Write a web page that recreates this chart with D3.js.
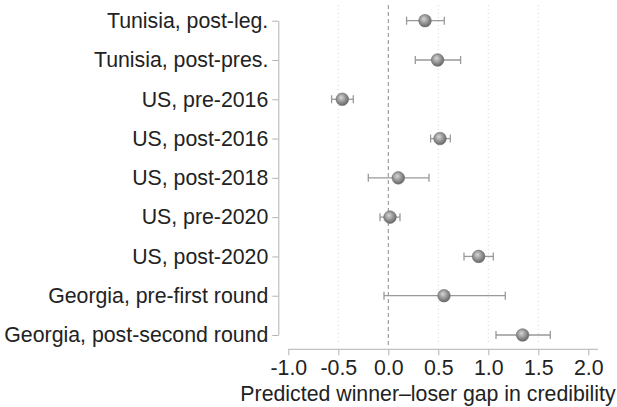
<!DOCTYPE html>
<html>
<head>
<meta charset="utf-8">
<script src="https://cdn.jsdelivr.net/npm/d3@7"></script>
<style>
  html, body { margin: 0; padding: 0; background: #fff; }
  svg { display: block; font-family: "Liberation Sans", Arial, Helvetica, sans-serif; }
</style>
</head>
<body>
<svg id="chart" width="617" height="407"></svg>
<script>
// Estimates of the winner–loser credibility gap with 95% intervals
const categories = [
  "Tunisia, post-leg.",
  "Tunisia, post-pres.",
  "US, pre-2016",
  "US, post-2016",
  "US, post-2018",
  "US, pre-2020",
  "US, post-2020",
  "Georgia, pre-first round",
  "Georgia, post-second round"
];
const estimates = [0.367, 0.493, -0.46, 0.517, 0.10, 0.017, 0.903, 0.557, 1.343];
const lower     = [0.183, 0.27, -0.567, 0.423, -0.20, -0.083, 0.757, -0.043, 1.077];
const upper     = [0.56, 0.723, -0.35, 0.62, 0.407, 0.117, 1.05, 1.17, 1.62];
const xTicks = [-1.0, -0.5, 0.0, 0.5, 1.0, 1.5, 2.0];
const gridTicks = [-0.5, 0.5, 1.0, 1.5];
const xTitle = "Predicted winner\u2013loser gap in credibility";

const svg = d3.select("#chart");

const x = d3.scaleLinear().domain([-1, 2]).range([288.3, 588.3]);
const y = d3.scalePoint().domain(categories).range([20.7, 335]);

const axisColor = "#b3b3b3";
const textColor = "#222";
const fontSize = 21.3;

// Sphere-like shading for markers
const defs = svg.append("defs");
const grad = defs.append("radialGradient")
  .attr("id", "ball").attr("cx", "45%").attr("cy", "42%").attr("r", "60%")
  .attr("fx", "40%").attr("fy", "35%");
grad.append("stop").attr("offset", "0%").attr("stop-color", "#d6d6d6");
grad.append("stop").attr("offset", "55%").attr("stop-color", "#969696");
grad.append("stop").attr("offset", "100%").attr("stop-color", "#626262");

// Vertical reference gridlines
svg.append("g").selectAll("line").data(gridTicks).join("line")
  .attr("x1", d => x(d)).attr("x2", d => x(d))
  .attr("y1", 5).attr("y2", 345)
  .attr("stroke", "#d4d4d4").attr("stroke-width", 1)
  .attr("stroke-dasharray", "1,3");

// Zero line
svg.append("line")
  .attr("x1", x(0)).attr("x2", x(0)).attr("y1", 5).attr("y2", 345)
  .attr("stroke", "#8c8c8c").attr("stroke-width", 1)
  .attr("stroke-dasharray", "4,3");

// X axis
const xAxis = d3.axisBottom(x).tickValues(xTicks).tickFormat(d3.format(".1f"))
  .tickSize(6).tickPadding(3).tickSizeOuter(0);
const gx = svg.append("g").attr("transform", "translate(0,349.3)").call(xAxis);
gx.select(".domain").attr("d", `M${x(-1)},0H598`).attr("stroke", axisColor);
gx.selectAll(".tick line").attr("stroke", axisColor);
gx.selectAll(".tick text")
  .attr("fill", textColor).attr("font-size", fontSize)
  .attr("font-family", "'Liberation Sans', Arial, sans-serif")
  .attr("dy", "0.78em")
  .text(d => d3.format(".1f")(d).replace("\u2212", "-"));

// Y axis
const yAxis = d3.axisLeft(y).tickSize(6).tickPadding(4).tickSizeOuter(0);
const gy = svg.append("g").attr("transform", "translate(278.3,0)").call(yAxis);
gy.select(".domain").attr("stroke", axisColor);
gy.selectAll(".tick line").attr("stroke", axisColor);
gy.selectAll(".tick text")
  .attr("fill", textColor).attr("font-size", fontSize)
  .attr("font-family", "'Liberation Sans', Arial, sans-serif");

// Axis title
svg.append("text")
  .attr("x", 428).attr("y", 401)
  .attr("text-anchor", "middle")
  .attr("font-size", fontSize).attr("fill", textColor)
  .text(xTitle);

// Confidence intervals
const rows = categories.map((c, i) => ({ c, est: estimates[i], lo: lower[i], hi: upper[i] }));
const ci = svg.append("g").attr("stroke", "#999").attr("stroke-width", 1.3);
ci.selectAll("line.bar").data(rows).join("line").attr("class", "bar")
  .attr("x1", d => x(d.lo)).attr("x2", d => x(d.hi))
  .attr("y1", d => y(d.c)).attr("y2", d => y(d.c));
ci.selectAll("line.capl").data(rows).join("line").attr("class", "capl")
  .attr("x1", d => x(d.lo)).attr("x2", d => x(d.lo))
  .attr("y1", d => y(d.c) - 4).attr("y2", d => y(d.c) + 4);
ci.selectAll("line.caph").data(rows).join("line").attr("class", "caph")
  .attr("x1", d => x(d.hi)).attr("x2", d => x(d.hi))
  .attr("y1", d => y(d.c) - 4).attr("y2", d => y(d.c) + 4);

// Point estimates
svg.append("g").selectAll("circle").data(rows).join("circle")
  .attr("cx", d => x(d.est)).attr("cy", d => y(d.c)).attr("r", 6.3)
  .attr("fill", "url(#ball)").attr("stroke", "#707070").attr("stroke-width", 0.6);
</script>
</body>
</html>
